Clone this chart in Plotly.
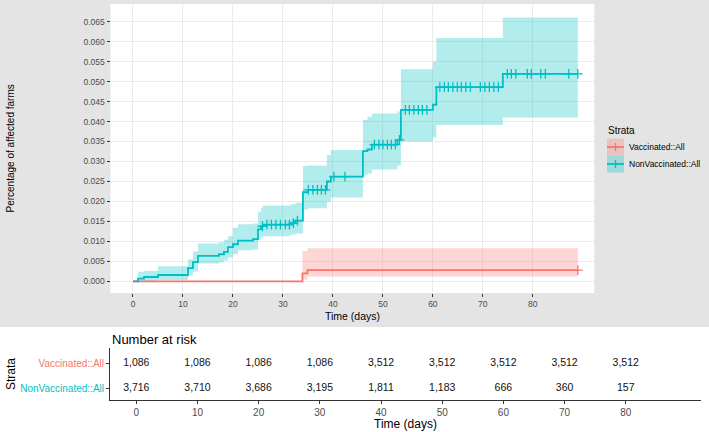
import plotly.graph_objects as go

W, H = 709, 432

# ---------------- data ----------------
nv_time = [0, 1.0, 2.2, 5.0, 11.0, 12.0, 13.0, 17.2, 18.2, 19.0, 20.0, 21.0, 24.0, 25.0, 25.6, 26.0,
           31.5, 32.5, 34.0, 35.0, 38.8, 39.6, 46.0, 46.9, 47.8, 52.9, 53.6, 60.0, 60.7, 74.0, 89.0]
nv_est = [0, 0.0007, 0.0011, 0.0016, 0.0033, 0.0048, 0.0064, 0.0068, 0.0074, 0.0086, 0.0093, 0.0102,
          0.0106, 0.0130, 0.0138, 0.0142, 0.0146, 0.0152, 0.0223, 0.0229, 0.0250, 0.0262, 0.0326,
          0.0330, 0.0342, 0.0354, 0.0429, 0.0442, 0.0486, 0.0519, 0.0519]
nv_lower = [0, 0, 0, 0.0003, 0.0015, 0.0025, 0.0045, 0.0048, 0.0052, 0.0060, 0.0068, 0.0078, 0.0080,
            0.0105, 0.0110, 0.0113, 0.0117, 0.0120, 0.0180, 0.0183, 0.0199, 0.0210, 0.0265, 0.0270,
            0.0280, 0.0290, 0.0350, 0.0360, 0.0391, 0.0410, 0.0410]
nv_upper = [0, 0.0024, 0.0026, 0.0038, 0.0055, 0.0075, 0.0095, 0.0098, 0.0104, 0.0113, 0.0134, 0.0143,
            0.0145, 0.0174, 0.0185, 0.0190, 0.0193, 0.0197, 0.0289, 0.0290, 0.0316, 0.0329, 0.0404,
            0.0412, 0.0420, 0.0425, 0.0531, 0.0550, 0.0609, 0.0660, 0.0660]
nv_censor_times = [25.9, 26.8, 27.7, 28.6, 29.5, 30.5, 31.3, 32.1, 32.9, 35.1, 36.0, 36.9, 37.7, 38.5,
                   40.2, 42.4, 48.3, 49.2, 50.0, 50.9, 51.7, 52.5, 53.3, 54.5, 55.3, 56.2, 57.1, 57.9,
                   58.8, 61.4, 62.3, 63.1, 64.0, 64.9, 65.7, 66.6, 67.5, 69.5, 70.4, 71.3, 72.2, 73.1,
                   74.9, 75.7, 76.6, 78.9, 79.7, 81.6, 82.5, 87.2, 89.0]

v_time = [0, 33.9, 34.9, 89.0]
v_est = [0, 0.0020, 0.0028, 0.0028]
v_lower = [0, 0.0005, 0.0012, 0.0012]
v_upper = [0, 0.0076, 0.0083, 0.0083]
v_censor_times = [89.0]

strata_names = ["Vaccinated::All", "NonVaccinated::All"]
strata_colors = ["#F8766D", "#00BFC4"]
band_colors = ["rgba(248,118,109,0.3)", "rgba(0,191,196,0.3)"]

risk_times = [0, 10, 20, 30, 40, 50, 60, 70, 80]
risk_vacc = [1086, 1086, 1086, 1086, 3512, 3512, 3512, 3512, 3512]
risk_nonvacc = [3716, 3710, 3686, 3195, 1811, 1183, 666, 360, 157]

y_ticks = [0.000, 0.005, 0.010, 0.015, 0.020, 0.025, 0.030, 0.035, 0.040, 0.045, 0.050, 0.055, 0.060, 0.065]
x_ticks = [0, 10, 20, 30, 40, 50, 60, 70, 80]

FONT = "Liberation Sans, Arial, sans-serif"


def px(x):
    return x / W


def py(y):
    return 1 - y / H


def step_value(times, vals, t):
    v = vals[0]
    for ti, vi in zip(times, vals):
        if ti <= t:
            v = vi
    return v


fig = go.Figure()

series = [
    (v_time, v_est, v_lower, v_upper, v_censor_times),
    (nv_time, nv_est, nv_lower, nv_upper, nv_censor_times),
]

# bands
for i, (t, e, lo, up, cens) in enumerate(series):
    fig.add_trace(go.Scatter(x=t, y=lo, mode="lines", line=dict(width=0, shape="hv"),
                             hoverinfo="skip", showlegend=False, xaxis="x", yaxis="y"))
    fig.add_trace(go.Scatter(x=t, y=up, mode="lines", line=dict(width=0, shape="hv"),
                             fill="tonexty", fillcolor=band_colors[i],
                             hoverinfo="skip", showlegend=False, xaxis="x", yaxis="y"))
# lines + censor marks
for i, (t, e, lo, up, cens) in enumerate(series):
    fig.add_trace(go.Scatter(x=t, y=e, mode="lines", line=dict(width=1.8, shape="hv", color=strata_colors[i]),
                             name=strata_names[i], showlegend=False, xaxis="x", yaxis="y"))
    fig.add_trace(go.Scatter(x=cens, y=[step_value(t, e, c) for c in cens], mode="markers",
                             marker=dict(symbol="cross-thin", size=7,
                                         line=dict(width=1.3, color=strata_colors[i])),
                             showlegend=False, hoverinfo="skip", xaxis="x", yaxis="y"))

# risk table
fig.add_trace(go.Scatter(x=risk_times, y=[2] * len(risk_times), mode="text",
                         text=[f"{v:,}" for v in risk_vacc],
                         textfont=dict(size=10.5, color="#111111", family=FONT),
                         showlegend=False, hoverinfo="skip", xaxis="x2", yaxis="y2"))
fig.add_trace(go.Scatter(x=risk_times, y=[1] * len(risk_times), mode="text",
                         text=[f"{v:,}" for v in risk_nonvacc],
                         textfont=dict(size=10.5, color="#111111", family=FONT),
                         showlegend=False, hoverinfo="skip", xaxis="x2", yaxis="y2"))

shapes = [
    # white table area
    dict(type="rect", xref="paper", yref="paper", x0=0, x1=1, y0=0, y1=py(327),
         fillcolor="white", line=dict(width=0), layer="below"),
]


def ann(text, x, y, size, xanchor="center", yanchor="middle", angle=0, color="black"):
    return dict(text=text, x=px(x), y=py(y), xref="paper", yref="paper",
                xanchor=xanchor, yanchor=yanchor, textangle=angle, showarrow=False,
                font=dict(size=size, color=color, family=FONT))


annotations = [
    ann("Percentage of affected farms", 10, 148.5, 10, angle=-90),
    ann("Time (days)", 352.4, 316, 10.5),
    ann("Number at risk", 110, 339, 13, xanchor="left"),
    ann("Strata", 11, 374, 12, angle=-90),
    ann("Time (days)", 405.5, 424, 12),
    ann("Strata", 606, 131, 10, xanchor="left"),
]

# manual legend
leg_rows = [147, 164]
for i, yc in enumerate(leg_rows):
    shapes.append(dict(type="rect", xref="paper", yref="paper", x0=px(607), x1=px(624),
                       y0=py(yc + 8.5), y1=py(yc - 8.5), fillcolor=band_colors[i], line=dict(width=0)))
    shapes.append(dict(type="line", xref="paper", yref="paper", x0=px(607), x1=px(624),
                       y0=py(yc), y1=py(yc), line=dict(color=strata_colors[i], width=1.8)))
    shapes.append(dict(type="line", xref="paper", yref="paper", x0=px(615.5), x1=px(615.5),
                       y0=py(yc + 4), y1=py(yc - 4), line=dict(color=strata_colors[i], width=1.3)))
    annotations.append(ann(strata_names[i], 626.5, yc, 8.5, xanchor="left"))

ticktext_rows = [f'<span style="color:{strata_colors[1]}">{strata_names[1]}</span>',
                 f'<span style="color:{strata_colors[0]}">{strata_names[0]}</span>']

fig.update_layout(
    width=W, height=H,
    margin=dict(l=0, r=0, t=0, b=0),
    paper_bgcolor="#E4E4E4",
    plot_bgcolor="white",
    font=dict(family=FONT),
    showlegend=False,
    shapes=shapes,
    annotations=annotations,
    xaxis=dict(domain=[px(110.5), px(594.3)], range=[-4.5, 92.3], anchor="y",
               tickvals=x_ticks, ticks="outside", ticklen=3, tickcolor="#333333", tickwidth=1,
               tickfont=dict(size=8.5, color="#4D4D4D", family=FONT),
               showgrid=True, gridcolor="#EBEBEB", gridwidth=1, zeroline=False, showline=False),
    yaxis=dict(domain=[py(293), py(4)], range=[-0.0029, 0.0694], anchor="x",
               tickvals=y_ticks, tickformat=".3f", ticks="outside", ticklen=3, tickcolor="#333333",
               tickfont=dict(size=8.5, color="#4D4D4D", family=FONT),
               showgrid=True, gridcolor="#EBEBEB", gridwidth=1, zeroline=False, showline=False),
    xaxis2=dict(domain=[px(110), px(701)], range=[-4.3, 92.3], anchor="y2",
                tickvals=x_ticks, ticks="outside", ticklen=3, tickcolor="#333333",
                tickfont=dict(size=10, color="#4D4D4D", family=FONT),
                showgrid=False, zeroline=False, showline=True, linecolor="#333333", linewidth=1),
    yaxis2=dict(domain=[py(400), py(348)], range=[0.52, 2.6], anchor="x2",
                tickvals=[1, 2], ticktext=ticktext_rows, ticks="outside", ticklen=3, tickcolor="#333333",
                tickfont=dict(size=10, family=FONT),
                showgrid=False, zeroline=False, showline=True, linecolor="#333333", linewidth=1),
)

fig.write_html("out.html", config={"displayModeBar": False},
               post_script="document.body.style.margin='0';document.body.style.overflow='hidden';")
